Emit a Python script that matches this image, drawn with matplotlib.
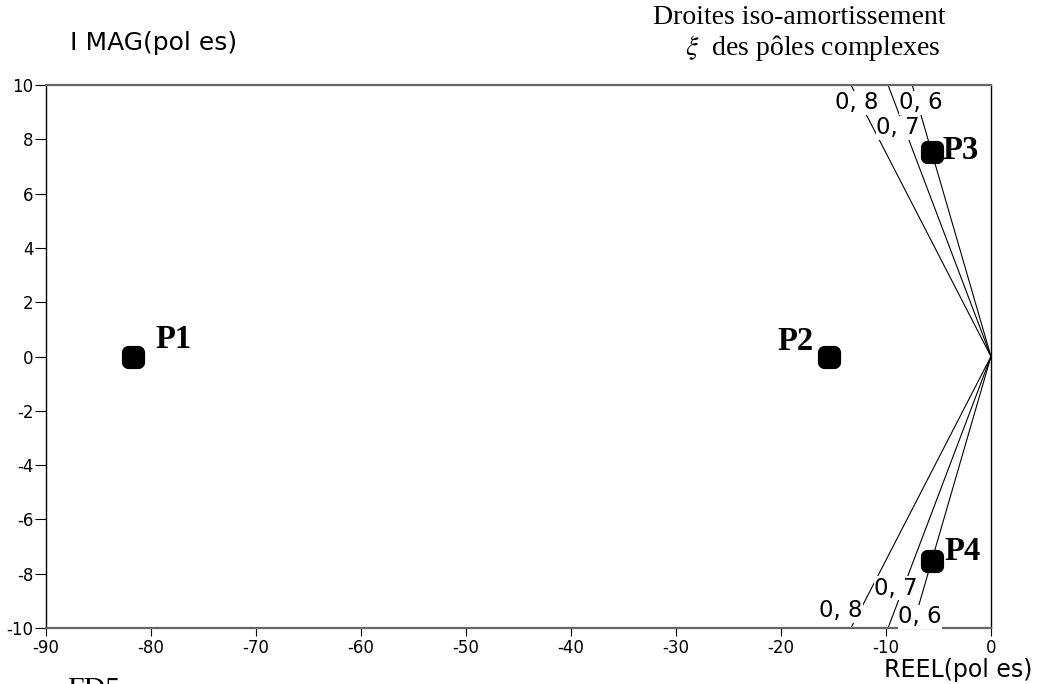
import matplotlib
matplotlib.use("Agg")
import matplotlib.pyplot as plt
from matplotlib.markers import MarkerStyle
import numpy as np

plt.rcParams["axes.unicode_minus"] = False
plt.rcParams["mathtext.fontset"] = "stix"

# poles (real, imag)
pole_names = ["P1", "P2", "P3", "P4"]
pole_re = [-81.7, -15.4, -5.65, -5.65]
pole_im = [0.0, 0.0, 7.55, -7.55]
# label offsets in points from each pole
label_dx = [29, -24, 21, 22]
label_dy = [12, 11, 1, 7]

# iso-damping lines
xi_values = [0.6, 0.7, 0.8]
xi_text = ["0, 6", "0, 7", "0, 8"]
xi_top_pos = [(-6.67, 9.34), (-8.86, 8.42), (-12.76, 9.34)]
xi_bot_pos = [(-6.76, -9.59), (-9.05, -8.53), (-14.29, -9.37)]

x_ticks = np.arange(-90, 1, 10)
y_ticks = np.arange(-10, 11, 2)

fig = plt.figure(figsize=(10.38, 6.84), dpi=100)
ax = fig.add_axes([0.0443, 0.0819, 0.9104, 0.7938])
ax.set_xlim(-90, 0)
ax.set_ylim(-10, 10)

# iso-damping lines from origin to the frame
for xi, txt, pt, pb in zip(xi_values, xi_text, xi_top_pos, xi_bot_pos):
    slope = np.tan(np.arccos(xi))
    re_end = -10 / slope
    ax.plot([0, re_end], [0, 10], color="black", lw=0.8, zorder=2)
    ax.plot([0, re_end], [0, -10], color="black", lw=0.8, zorder=2)
    for (tx, ty) in (pt, pb):
        ax.text(tx, ty, txt, fontsize=16.5, ha="center", va="center",
                family="DejaVu Sans", zorder=3,
                bbox=dict(facecolor="white", edgecolor="none", pad=0.3))

m = MarkerStyle("s", joinstyle="round")
ax.plot(pole_re, pole_im, linestyle="none", marker=m, markersize=6.5,
        markeredgewidth=9.5, color="black", zorder=4)
for name, x, y, dx, dy in zip(pole_names, pole_re, pole_im, label_dx, label_dy):
    ax.annotate(name, (x, y), xytext=(dx, dy), textcoords="offset points",
                ha="center", va="center", fontsize=23.5, fontweight="bold",
                family="Liberation Serif")

ax.set_xticks(x_ticks)
ax.set_yticks(y_ticks)
ax.tick_params(axis="x", direction="out", length=6, width=0.8, labelsize=12, pad=2)
ax.tick_params(axis="y", direction="out", length=8, width=0.8, labelsize=12, pad=1)
for s in ("top", "bottom"):
    ax.spines[s].set_color("#666666")
    ax.spines[s].set_linewidth(1.6)
for s in ("left", "right"):
    ax.spines[s].set_color("black")
    ax.spines[s].set_linewidth(1.0)

fig.text(0.0674, 0.937, "I MAG(pol es)", fontsize=18, va="center", ha="left")
fig.text(0.995, 0.021, "REEL(pol es)", fontsize=17, va="center", ha="right")

fig.text(799 / 1038, 0.965, "Droites iso-amortissement", fontsize=20,
         family="Liberation Serif", ha="center", va="baseline")
fig.text(813 / 1038, 0.9196, r"$\xi$  des pôles complexes", fontsize=20,
         family="Liberation Serif", ha="center", va="baseline")
fig.text(67 / 1038, -0.019, "FD5", fontsize=21.5, family="Liberation Serif",
         ha="left", va="baseline")

fig.savefig("out.png", dpi=100)
